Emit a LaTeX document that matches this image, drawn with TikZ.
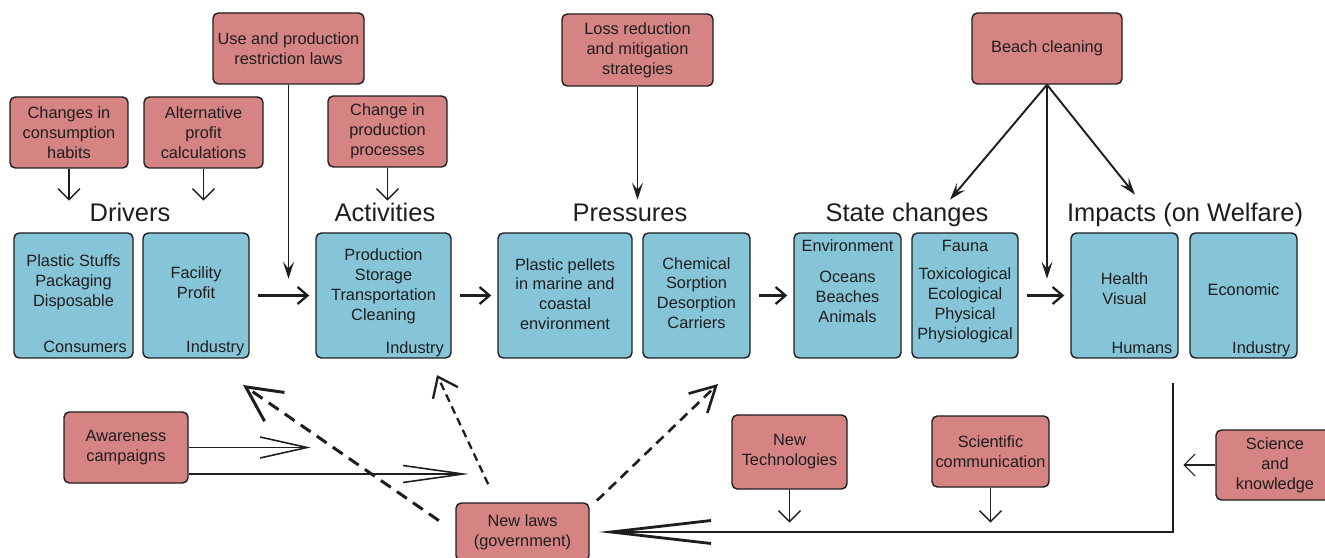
\documentclass[tikz,border=0pt]{standalone}
\usepackage{fontspec}
\setmainfont{Liberation Sans}
\usetikzlibrary{arrows.meta,calc,positioning}
\definecolor{ink}{HTML}{1E1E1E}
\definecolor{rose}{HTML}{D68383}
\definecolor{sky}{HTML}{86C5D7}
\tikzset{
  basebox/.style={draw=ink,line width=0.8pt,rounded corners=3pt,align=center,inner sep=1pt,text=ink,font=\fontsize{9.3}{11.3}\selectfont},
  actionbox/.style={basebox,fill=rose},
  stagebox/.style={basebox,fill=sky,minimum height=2.50cm},
  tag/.style={align=center,inner sep=0pt,text=ink,font=\fontsize{9.3}{11.3}\selectfont},
  stagetitle/.style={anchor=base,inner sep=0pt,text=ink,font=\fontsize{14.5}{17}\selectfont},
  drop/.style={-{Straight Barb[length=2.2mm,width=4.4mm]},line width=0.8pt,draw=ink},
  longdrop/.style={-{Stealth[length=3.4mm,width=2.2mm,inset=1.4mm]},line width=1.1pt,draw=ink},
  stageflow/.style={-{Straight Barb[length=2mm,width=3.4mm]},line width=1.3pt,draw=ink,shorten <=0.16cm,shorten >=0.12cm},
  bigflow/.style={-{Straight Barb[length=20mm,width=4.6mm]},line width=1.6pt,draw=ink},
  lawdash/.style={line width=1.5pt,draw=ink,dash pattern=on 0.2cm off 0.13cm}
}

\begin{document}
\begin{tikzpicture}[
    x=1cm,y=1cm,
    lbl/.style={tag,anchor=base east},
    head/.style={tag,anchor=base},
    campaign/.style={line width=0.9pt,draw=ink}
  ]
    \useasboundingbox (0,0) rectangle (26.50,11.14);

    \node[stagetitle] (t-drv) at (2.60,6.70) {Drivers};
    \node[stagetitle] (t-act) at (7.70,6.70) {Activities};
    \node[stagetitle] (t-prs) at (12.60,6.70) {Pressures};
    \node[stagetitle] (t-sta) at (18.14,6.70) {State changes};
    \node[stagetitle] (t-imp) at (23.70,6.70) {Impacts (on Welfare)};

    \node[stagebox,minimum width=2.38cm] (cons) at (1.47,5.23) {};
    \node[tag] (cons-txt) at (1.47,5.50) {Plastic Stuffs\\Packaging\\Disposable};
    \node[lbl] (cons-tag) at ($(cons.south east)+(-0.13,0.12)$) {Consumers};

    \node[stagebox,minimum width=2.12cm] (drvind) at (3.92,5.23) {};
    \node[tag] (drvind-txt) at (3.92,5.48) {Facility\\Profit};
    \node[lbl] (drvind-tag) at ($(drvind.south east)+(-0.10,0.12)$) {Industry};

    \node[stagebox,minimum width=2.70cm] (act) at (7.67,5.23) {};
    \node[tag] (act-txt) at (7.67,5.42) {Production\\Storage\\Transportation\\Cleaning};
    \node[lbl] (act-tag) at ($(act.south east)+(-0.15,0.10)$) {Industry};

    \node[stagebox,minimum width=2.68cm] (pellets) at (11.30,5.23) {};
    \node[tag] (pellets-txt) at (11.30,5.26) {Plastic pellets\\in marine and\\coastal\\environment};

    \node[stagebox,minimum width=2.14cm] (chem) at (13.93,5.23) {};
    \node[tag] (chem-txt) at (13.93,5.28) {Chemical\\Sorption\\Desorption\\Carriers};

    \node[stagebox,minimum width=2.14cm] (env) at (16.95,5.23) {};
    \node[head] (env-tag) at ($(env.north)+(0,-0.38)$) {Environment};
    \node[tag] (env-txt) at (16.95,5.20) {Oceans\\Beaches\\Animals};

    \node[stagebox,minimum width=2.12cm] (fauna) at (19.30,5.23) {};
    \node[head] (fauna-tag) at ($(fauna.north)+(0,-0.38)$) {Fauna};
    \node[tag] (fauna-txt) at (19.30,5.04) {Toxicological\\Ecological\\Physical\\Physiological};

    \node[stagebox,minimum width=2.14cm] (health) at (22.49,5.23) {};
    \node[tag] (health-txt) at (22.49,5.36) {Health\\Visual};
    \node[lbl] (health-tag) at ($(health.south east)+(-0.12,0.10)$) {Humans};

    \node[stagebox,minimum width=2.14cm] (econ) at (24.87,5.23) {};
    \node[tag] (econ-txt) at (24.87,5.34) {Economic};
    \node[lbl] (econ-tag) at ($(econ.south east)+(-0.14,0.10)$) {Industry};

    \node[actionbox,minimum width=2.36cm,minimum height=1.42cm] (habits) at (1.38,8.49) {Changes in\\consumption\\habits};
    \node[actionbox,minimum width=2.38cm,minimum height=1.42cm] (altprofit) at (4.07,8.49) {Alternative\\profit\\calculations};
    \node[actionbox,minimum width=3.02cm,minimum height=1.42cm] (restrict) at (5.77,10.17) {Use and production\\restriction laws};
    \node[actionbox,minimum width=2.38cm,minimum height=1.42cm] (procchg) at (7.75,8.51) {Change in\\production\\processes};
    \node[actionbox,minimum width=3.02cm,minimum height=1.44cm] (loss) at (12.75,10.14) {Loss reduction\\and mitigation\\strategies};
    \node[actionbox,minimum width=3.00cm,minimum height=1.42cm] (beach) at (20.94,10.17) {Beach cleaning};

    \node[actionbox,minimum width=2.48cm,minimum height=1.42cm] (aware) at (2.52,2.19) {Awareness\\campaigns};
    \node[actionbox,minimum width=2.66cm,minimum height=1.16cm] (newlaws) at (10.45,0.50) {New laws\\(government)};
    \node[actionbox,minimum width=2.30cm,minimum height=1.48cm] (newtech) at (15.79,2.10) {New\\Technologies};
    \node[actionbox,minimum width=2.34cm,minimum height=1.42cm] (scicomm) at (19.81,2.11) {Scientific\\communication};
    \node[actionbox,minimum width=2.36cm,minimum height=1.40cm] (science) at (25.50,1.84) {Science\\and\\knowledge};

    \draw[drop] (habits.south) -- ++(0,-0.64);
    \draw[drop] (altprofit.south) -- ++(0,-0.64);
    \draw[drop] (procchg.south) -- ++(0,-0.66);
    \draw[longdrop] (restrict.south) -- ++(0,-3.88);
    \draw[longdrop] (loss.south) -- ++(0,-2.26);
    \draw[longdrop] (beach.south) -- ++(-1.94,-2.30);
    \draw[longdrop] (beach.south) -- ++(0,-3.88);
    \draw[longdrop] (beach.south) -- ++(1.76,-2.20);

    \draw[stageflow] (drvind.east) -- (act.west);
    \draw[stageflow] (act.east) -- (pellets.west);
    \draw[stageflow] (chem.east) -- (env.west);
    \draw[stageflow] (fauna.east) -- (health.west);

    \draw[campaign,-{Straight Barb[length=9.4mm,width=4.2mm]}] (aware.east) -- ++(2.44,0);
    \draw[campaign,-{Straight Barb[length=12mm,width=3.4mm]}] ($(aware.east)+(0,-0.53)$) -- ++(5.60,0);

    \coordinate (law1) at (4.86,3.44);
    \coordinate (law2) at (8.74,3.64);
    \coordinate (law3) at (14.36,3.46);
    \draw[lawdash,line width=1.7pt,dash pattern=on 0.24cm off 0.15cm,-{Straight Barb[length=7mm,width=7mm]},shorten <=0.4cm] (newlaws.west) -- (law1);
    \draw[lawdash,line width=1.3pt,dash pattern=on 0.16cm off 0.10cm,-{Straight Barb[length=3.6mm,width=5.5mm]},shorten <=0.4cm] (newlaws.131) -- (law2);
    \draw[lawdash,-{Straight Barb[length=5mm,width=5.4mm]},shorten <=0.2cm] (newlaws.20) -- (law3);

    \draw[drop] (newtech.south) -- ++(0,-0.66);
    \draw[drop] (scicomm.south) -- ++(0,-0.70);
    \draw[drop,line width=0.6pt] (science.west) -- ++(-0.64,0);

    \coordinate (bend) at (23.46,3.48);
    \draw[bigflow,shorten >=0.18cm] (bend) |- (newlaws.east);
  \end{tikzpicture}
\end{document}
